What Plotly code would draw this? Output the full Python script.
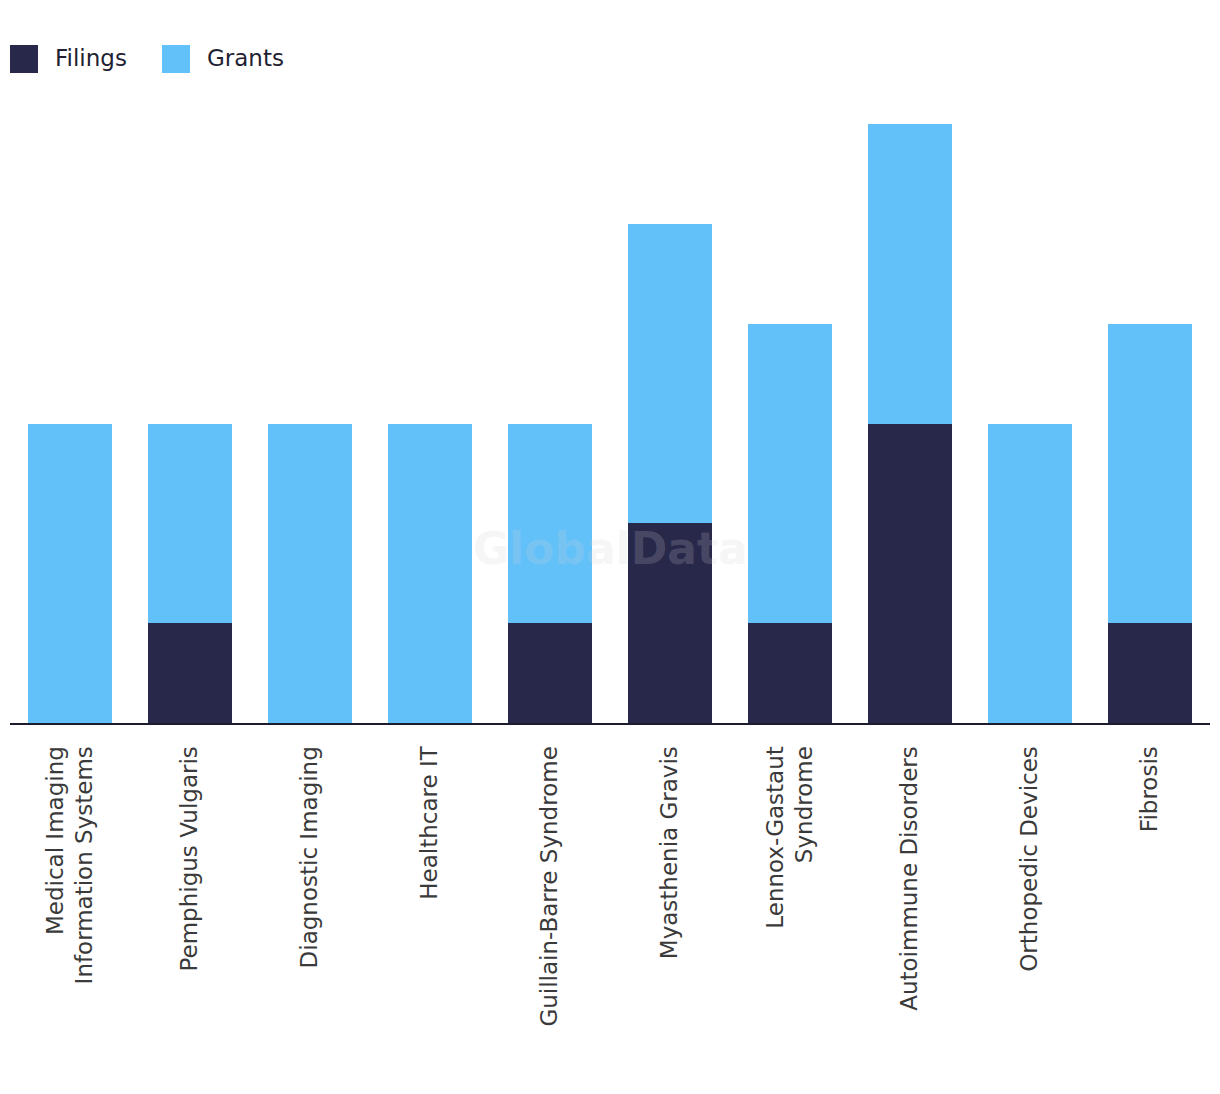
import plotly.graph_objects as go

categories = [
    "Medical Imaging<br>Information Systems",
    "Pemphigus Vulgaris",
    "Diagnostic Imaging",
    "Healthcare IT",
    "Guillain-Barre Syndrome",
    "Myasthenia Gravis",
    "Lennox-Gastaut<br>Syndrome",
    "Autoimmune Disorders",
    "Orthopedic Devices",
    "Fibrosis",
]
filings = [0, 1, 0, 0, 1, 2, 1, 3, 0, 1]
grants = [3, 2, 3, 3, 2, 3, 3, 3, 3, 3]

DARK = "#27284a"
LIGHT = "#62c1f9"
FONT = "DejaVu Sans, Arial, sans-serif"

fig = go.Figure()
fig.add_trace(go.Bar(x=categories, y=filings, name="Filings", marker_color=DARK,
                     marker_line_width=0, showlegend=False))
fig.add_trace(go.Bar(x=categories, y=grants, name="Grants", marker_color=LIGHT,
                     marker_line_width=0, showlegend=False))

L, T, PW, PH = 2, 116, 1200, 599
fig.update_layout(
    barmode="stack",
    bargap=0.3,
    width=1204,
    height=1078,
    margin=dict(l=L, r=2, t=T, b=1078 - T - PH),
    plot_bgcolor="white",
    paper_bgcolor="white",
    font=dict(family=FONT, size=23, color="#333333"),
    xaxis=dict(
        tickangle=-90,
        showline=True,
        linecolor="#1c1c2e",
        linewidth=2,
        ticks="outside",
        ticklen=12,
        tickcolor="rgba(0,0,0,0)",
        showgrid=False,
        tickfont=dict(family=FONT, size=23, color="#3a3a3a"),
    ),
    yaxis=dict(range=[0, 6], visible=False, showgrid=False),
)

# custom legend (pixel positions relative to plot area)
legend_items = [("Filings", DARK, 0), ("Grants", LIGHT, 152)]
for name, color, dx in legend_items:
    fig.add_shape(type="rect", xref="paper", yref="paper",
                  x0=dx / PW, x1=(dx + 28) / PW,
                  y0=1 + 51 / PH, y1=1 + 79 / PH,
                  fillcolor=color, line_width=0)
    fig.add_annotation(text=name, xref="paper", yref="paper",
                       x=(dx + 43) / PW, y=1 + 66 / PH,
                       xanchor="left", yanchor="middle", showarrow=False,
                       font=dict(family=FONT, size=23, color="#1f1f33"))

# watermark
fig.add_annotation(text="<b>GlobalData</b>", xref="paper", yref="paper",
                   x=0.5, y=175 / PH, xanchor="center", yanchor="middle",
                   showarrow=False,
                   font=dict(family=FONT, size=44, color="rgba(210,210,215,0.2)"))

fig.write_html("out.html")
